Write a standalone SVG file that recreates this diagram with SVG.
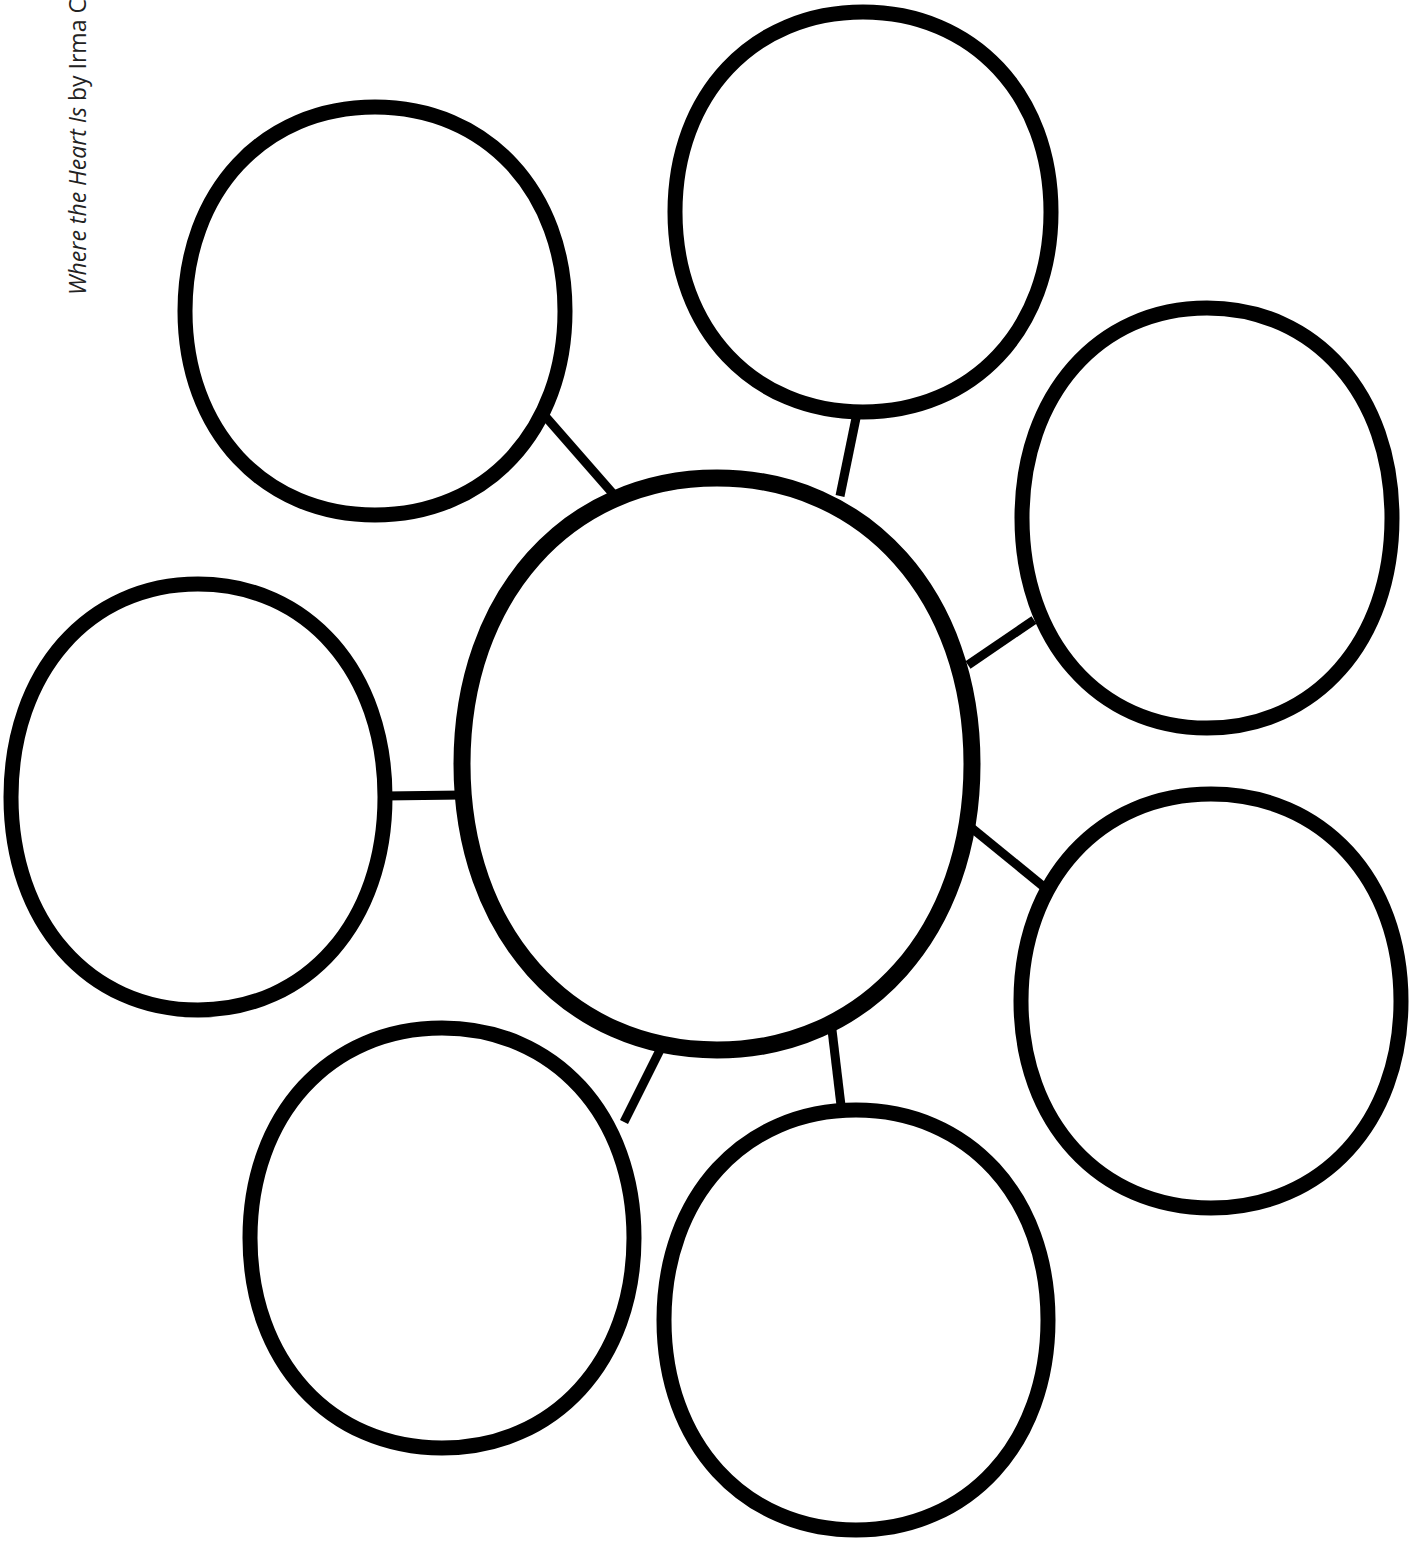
<svg xmlns="http://www.w3.org/2000/svg" width="1424" height="1547" viewBox="0 0 1424 1547">
<style>
.node{fill:none;stroke:#000;stroke-width:15;stroke-linejoin:round}
.conn{stroke:#000;stroke-width:9;fill:none}
.credit{font-family:"Open Sans","Noto Sans",sans-serif;font-size:23px;fill:#222}
</style>
<rect width="1424" height="1547" fill="#fff"/>
<text class="credit" transform="translate(86,295) rotate(-90)"><tspan font-style="italic">Where the Heart Is</tspan> by Irma C</text>
<g id="connectors">
<line class="conn" x1="545" y1="416" x2="615" y2="496"/>
<line class="conn" x1="856" y1="418" x2="840" y2="496"/>
<line class="conn" x1="968" y1="665" x2="1034" y2="620"/>
<line class="conn" x1="385" y1="796" x2="462" y2="795"/>
<line class="conn" x1="968" y1="825" x2="1044" y2="887"/>
<line class="conn" x1="663" y1="1044" x2="624" y2="1122"/>
<line class="conn" x1="832" y1="1030" x2="842" y2="1114"/>
</g>
<g id="center"><path class="node" style="stroke-width:17" d="M462,764 C462,596.7 567.8,478 717,478 C866.2,478 972,596.7 972,764 C972,931.3 866.2,1050 717,1050 C567.8,1050 462,931.3 462,764 Z"/></g>
<g id="top-left"><path class="node" d="M185,311 C185,191.7 263.8,107 375,107 C486.2,107 565,191.7 565,311 C565,430.3 486.2,515 375,515 C263.8,515 185,430.3 185,311 Z"/></g>
<g id="top"><path class="node" d="M675,212 C675,95 753,12 863,12 C973,12 1051,95 1051,212 C1051,329 973,412 863,412 C753,412 675,329 675,212 Z"/></g>
<g id="right-upper"><path class="node" d="M1022,518 C1022,395.1 1098.8,308 1207,308 C1315.2,308 1392,395.1 1392,518 C1392,640.9 1315.2,728 1207,728 C1098.8,728 1022,640.9 1022,518 Z"/></g>
<g id="left"><path class="node" d="M11,797 C11,672.4 88.6,584 198,584 C307.4,584 385,672.4 385,797 C385,921.6 307.4,1010 198,1010 C88.6,1010 11,921.6 11,797 Z"/></g>
<g id="right-lower"><path class="node" d="M1021,1001 C1021,879.9 1099.8,794 1211,794 C1322.2,794 1401,879.9 1401,1001 C1401,1122.1 1322.2,1208 1211,1208 C1099.8,1208 1021,1122.1 1021,1001 Z"/></g>
<g id="bottom-left"><path class="node" d="M250,1238 C250,1115.1 329.7,1028 442,1028 C554.3,1028 634,1115.1 634,1238 C634,1360.9 554.3,1448 442,1448 C329.7,1448 250,1360.9 250,1238 Z"/></g>
<g id="bottom"><path class="node" d="M664,1320 C664,1197.1 743.7,1110 856,1110 C968.3,1110 1048,1197.1 1048,1320 C1048,1442.9 968.3,1530 856,1530 C743.7,1530 664,1442.9 664,1320 Z"/></g>
</svg>
